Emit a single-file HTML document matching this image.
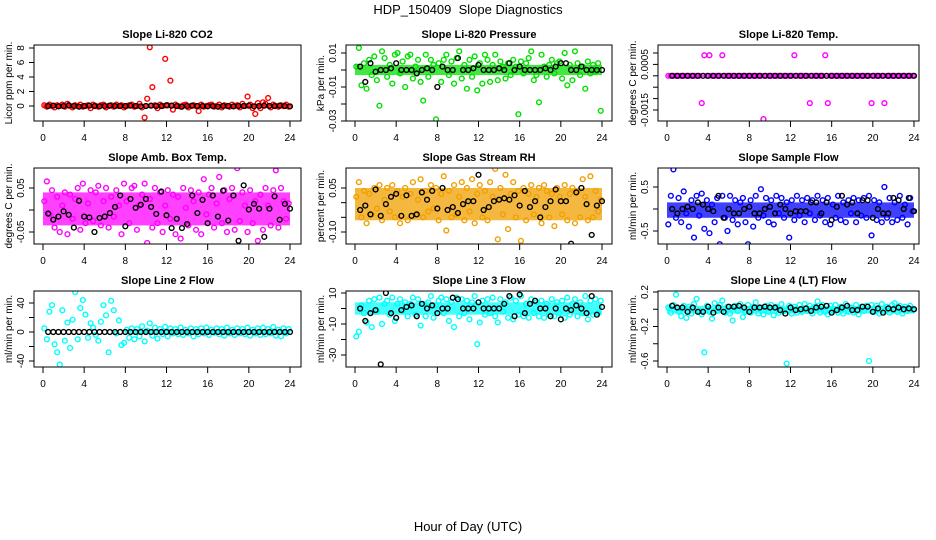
<!DOCTYPE html>
<html><head><meta charset="utf-8"><title>HDP_150409 Slope Diagnostics</title>
<style>
html,body{margin:0;padding:0;background:#fff;}
svg{display:block;font-family:"Liberation Sans",Arial,sans-serif;}
</style></head>
<body>
<svg id="chart" width="936" height="540" viewBox="0 0 936 540" xmlns="http://www.w3.org/2000/svg">
<rect x="0" y="0" width="936" height="540" fill="#fff"/>
<text x="468" y="14" font-size="13" text-anchor="middle" style="white-space:pre">HDP_150409&#160; Slope Diagnostics</text>
<text x="468" y="531" font-size="13" text-anchor="middle">Hour of Day (UTC)</text>
<g id="panels"></g>
</svg>
<script>
// ---- shared time categories (hours) ----
const timesColor = [0.125,0.375,0.625,0.875,1.125,1.375,1.625,1.875,2.125,2.375,2.625,2.875,3.125,3.375,3.625,3.875,4.125,4.375,4.625,4.875,5.125,5.375,5.625,5.875,6.125,6.375,6.625,6.875,7.125,7.375,7.625,7.875,8.125,8.375,8.625,8.875,9.125,9.375,9.625,9.875,10.125,10.375,10.625,10.875,11.125,11.375,11.625,11.875,12.125,12.375,12.625,12.875,13.125,13.375,13.625,13.875,14.125,14.375,14.625,14.875,15.125,15.375,15.625,15.875,16.125,16.375,16.625,16.875,17.125,17.375,17.625,17.875,18.125,18.375,18.625,18.875,19.125,19.375,19.625,19.875,20.125,20.375,20.625,20.875,21.125,21.375,21.625,21.875,22.125,22.375,22.625,22.875,23.125,23.375,23.625,23.875];
const timesBlack = [0.5,1,1.5,2,2.5,3,3.5,4,4.5,5,5.5,6,6.5,7,7.5,8,8.5,9,9.5,10,10.5,11,11.5,12,12.5,13,13.5,14,14.5,15,15.5,16,16.5,17,17.5,18,18.5,19,19.5,20,20.5,21,21.5,22,22.5,23,23.5,24];
const xTicks = [0,4,8,12,16,20,24];

// ---- CO2 ----
const co2Color = [0.1,-0.1,0.2,0,-0.2,0.1,0,0.2,-0.1,0.3,0,-0.2,0.1,0,0.2,-0.1,0,0.1,-0.3,0.2,0,-0.1,0.1,0.2,-0.2,0,0.1,-0.1,0.2,0,0.1,-0.2,0,0.1,0.2,-0.1,0,0.3,-0.2,-1.6,1.0,8.1,2.6,0.1,-0.3,0.2,0,6.5,0.1,3.5,-0.5,0.2,0,-0.1,0.1,0.2,-0.2,0,0.1,0,-0.7,0.2,-0.1,0,0.1,0.2,-0.1,0,0.2,-0.2,0.1,0,-0.1,0.2,0,0.1,-0.2,0.3,0,1.3,0.2,-0.3,-1.1,0.4,-0.3,0.5,0.3,1.1,-0.2,0.2,0,-0.1,0.1,0,0.2,-0.1];
const co2Black = [0,0.05,-0.05,0,0.1,0,-0.1,0,0.05,0,-0.05,0,0.05,0,0,0,0.05,0,-0.05,0,0.05,0,0,0.1,0.05,0,-0.1,0,0.05,0,0,-0.05,0,-0.1,0,0,-0.05,0,0,0.05,-0.05,0,0.05,0,0,0.05,0,-0.05];
const co2Core = [-0.3,0.3];
const co2YTicks = [0,2,4,6,8];
const co2YLabels = ["0","2","4","6","8"];

// ---- Pressure ----
const presColor = [0.002,0.013,-0.009,0.004,-0.011,0.006,-0.003,0.008,-0.006,-0.021,0.011,0.007,-0.004,0.003,-0.008,0.009,0.010,-0.002,0.005,-0.010,0.008,0.009,-0.005,0.002,0.006,-0.007,-0.018,0.009,-0.004,0.006,0.003,-0.029,0.004,-0.007,0.006,0.009,-0.003,0.005,-0.008,0.007,0.011,-0.005,0.003,-0.011,0.006,-0.004,0.008,-0.012,0.004,-0.008,0.009,0.006,-0.007,0.003,0.009,-0.006,0.005,0.002,-0.005,0.004,-0.003,0.006,0.002,-0.026,0.005,-0.002,0.004,0.007,0.011,-0.006,-0.003,-0.019,0.009,0.002,-0.004,0.003,0.006,-0.002,0.004,0.005,-0.005,0.010,-0.009,0.003,-0.006,0.011,0.004,-0.003,0.002,-0.011,0.005,-0.002,0.003,-0.001,0.004,-0.024];
const presBlack = [0.002,-0.007,0.004,-0.001,0,0,0.001,0.004,0,0,0,-0.002,0,0.001,0,-0.010,0.002,0,0,0.007,0,0,0.001,0.003,0,0,0,0.001,0,0.004,0,0.002,0,0,0,0,0.001,0,0.002,0.004,0.004,0,0,0.002,0,0,0,0];
const presCore = [-0.003,0.003];
const presYTicks = [0.01,0,-0.01,-0.02,-0.03];
const presYLabels = ["0.01","","-0.01","","-0.03"];

// ---- Li-820 Temp ----
const tempColor = [0,0,0,0,0,0,0,0,0,0,0,0,0,-0.0012,0.0009,0,0.0009,0,0,0,0,0.0009,0,0,0,0,0,0,0,0,0,0,0,0,0,0,0,-0.0019,0,0,0,0,0,0,0,0,0,0,0,0.0009,0,0,0,0,0,-0.0012,0,0,0,0,0,0.0009,-0.0012,0,0,0,0,0,0,0,0,0,0,0,0,0,0,0,0,-0.0012,0,0,0,0,-0.0012,0,0,0,0,0,0,0,0,0,0,0];
const tempBlack = [0,0,0,0,0,0,0,0,0,0,0,0,0,0,0,0,0,0,0,0,0,0,0,0,0,0,0,0,0,0,0,0,0,0,0,0,0,0,0,0,0,0,0,0,0,0,0,0];
const tempCore = [-0.00005,0.00005];
const tempYTicks = [0.001,0.0005,0,-0.0005,-0.001,-0.0015];
const tempYLabels = ["","0.0005","","","","-0.0015"];

// ---- Amb. Box Temp ----
const ambColor = [0.02,0.065,-0.01,0.045,-0.04,0.03,-0.05,0.01,0.04,-0.055,0.035,-0.02,0.025,0.05,-0.045,0.06,-0.03,0.015,0.045,-0.025,0.04,0.055,-0.035,0.02,0.05,-0.04,0.03,-0.015,0.045,0.01,-0.055,0.06,0.02,-0.03,0.05,0.055,-0.045,0.01,0.035,0.06,-0.075,0.025,-0.04,0.05,-0.03,0.04,-0.05,0.01,0.045,-0.02,0.035,-0.055,0.03,-0.065,0.05,0.005,-0.035,0.045,0.02,-0.045,0.04,-0.055,0.07,-0.01,0.035,0.05,-0.04,0.015,0.075,-0.03,0.045,-0.05,0.025,0.05,-0.045,0.095,-0.025,0.04,0.01,-0.05,0.045,-0.03,0.02,-0.07,0.035,-0.045,0.05,0.01,-0.035,0.045,0.09,-0.04,0.05,0.02,-0.02,0.015];
const ambBlack = [-0.008,-0.022,-0.015,-0.003,-0.011,-0.04,0.021,-0.015,-0.017,-0.05,-0.018,-0.015,-0.007,0.007,0.033,-0.037,0.025,0.005,0.012,0.025,0.007,-0.009,0.042,-0.012,-0.041,-0.02,-0.041,-0.032,0.033,-0.007,0.023,-0.03,0.033,-0.015,0.044,-0.024,0.033,-0.07,0.056,0.001,0.014,0.003,-0.061,0.003,0.031,-0.022,0.014,0.003];
const ambCore = [-0.035,0.04];
const ambYTicks = [0.05,0,-0.05];
const ambYLabels = ["0.05","","-0.05"];

// ---- Gas Stream RH ----
const rhColor = [0.02,0.07,-0.05,0.04,-0.07,0.03,-0.04,0.05,-0.02,0.06,-0.06,0.01,0.05,-0.03,0.06,-0.05,0.04,-0.07,0.02,0.05,-0.06,0.03,0.07,-0.04,0.01,0.08,-0.05,0.04,-0.03,0.06,-0.02,0.05,-0.06,0.03,0.09,-0.095,0.04,-0.05,0.06,-0.04,0.02,0.07,-0.06,0.05,-0.03,0.08,-0.07,0.03,0.06,-0.05,0.04,-0.06,0.07,0.02,0.115,-0.125,0.05,-0.04,0.095,-0.09,0.03,0.07,-0.05,0.04,-0.13,0.05,-0.06,0.03,0.06,-0.04,0.02,0.05,-0.07,0.06,0.04,-0.05,0.03,-0.08,0.05,0.02,-0.04,0.06,-0.06,0.03,0.05,-0.07,0.04,-0.05,0.08,0.02,-0.06,0.09,-0.05,0.04,-0.03,0.01];
const rhBlack = [-0.025,-0.01,-0.04,0.045,-0.045,-0.005,0.02,0.03,-0.045,0.025,-0.045,-0.04,0.035,0.01,0.04,-0.02,0.05,-0.025,-0.015,-0.035,-0.005,0.005,0.005,0.095,-0.025,-0.015,0.005,0.01,0.015,0.01,0.025,-0.01,0.04,-0.015,0.005,-0.05,-0.015,0.005,0.045,0.005,0.005,-0.14,0.035,0.05,-0.005,-0.11,-0.01,0.005];
const rhCore = [-0.06,0.05];
const rhYTicks = [0.05,0,-0.05,-0.10];
const rhYLabels = ["0.05","","","-0.10"];

// ---- Sample Flow ----
const sfColor = [-0.35,0.3,0.9,-0.2,0.25,-0.3,0.4,-0.1,-0.4,0.2,-0.65,0.3,-0.15,0.35,-0.45,0.2,-0.55,0.1,-0.3,0.25,-0.8,0.3,-0.2,-0.5,0.3,-0.25,0.2,-0.35,0.15,0.25,-0.3,-0.8,0.2,-0.4,0.3,-0.2,0.45,-0.15,0.25,-0.3,0.2,-0.35,0.3,-0.1,0.25,-0.2,0.15,-0.65,0.2,-0.25,0.3,-0.15,0.2,-0.3,0.25,-0.1,0.2,-0.25,0.3,-0.15,0.2,-0.3,0.25,-0.35,0.1,-0.2,0.3,-0.25,0.15,-0.3,0.2,-0.1,0.25,-0.3,0.2,-0.15,0.25,-0.2,0.3,-0.6,0.2,-0.25,0.15,-0.3,0.5,-0.2,0.25,-0.3,0.15,-0.25,0.3,-0.2,0.1,-0.35,0.25,-0.05];
const sfBlack = [0,-0.1,0,0.05,0,0.15,0.1,0,-0.05,0.3,-0.2,0,-0.1,-0.1,0,0.05,-0.1,-0.1,0,0.05,-0.1,0.1,0,-0.1,-0.05,-0.05,-0.05,0.15,0.15,-0.1,0.15,-0.25,0.05,0.3,0.1,0.15,-0.1,0.2,0.2,-0.2,0,-0.1,-0.1,0.25,0.2,0,0.25,-0.05];
const sfCore = [-0.2,0.15];
const sfYTicks = [0.5,0,-0.5];
const sfYLabels = ["0.5","","-0.5"];

// ---- Line 2 Flow ----
const l2Color = [5,-10,28,37,-17,-28,-45,30,-12,13,-22,17,55,-10,33,44,24,-8,12,6,-4,-12,14,37,23,-28,43,30,-2,16,-18,-15,3,-8,5,-10,4,-6,8,-13,2,12,-5,6,-9,4,-3,7,-6,5,-2,4,-3,6,-4,3,-2,5,-6,4,-3,5,-2,6,-4,3,-1,5,-3,4,-5,6,-2,3,-4,5,-2,4,-3,6,-5,3,-2,5,-4,6,-3,4,-2,7,-5,3,-6,5,-2,4];
const l2Black = [0,0,0,0,0,0,0,0,0,0,0,0,0,0,0,0,0,0,0,0,0,0,0,0,0,0,0,0,0,0,0,0,0,0,0,0,0,0,0,0,0,0,0,0,0,0,0,0];
const l2Core = [-3,3];
const l2YTicks = [40,20,0,-20,-40];
const l2YLabels = ["40","","0","","-40"];

// ---- Line 3 Flow ----
const l3Color = [-18,-15,2,-3,-9,5,-12,6,-2,7,-10,3,5,-4,7,-8,3,6,-2,4,-5,3,7,-4,6,-11,3,-5,4,8,-6,2,5,7,-3,6,-8,4,-12,7,-5,6,-3,5,-7,4,8,-23,-9,5,-4,6,-3,7,-5,-9,6,-2,4,-6,7,-7,5,-4,8,-5,3,-6,6,-3,4,-5,5,-6,3,-4,6,-5,4,-3,5,-6,7,-4,3,6,-5,4,-3,8,-7,5,-4,6,-3,5];
const l3Black = [0,-8,-3,-1,-36,10,-3,-6,-1,1,2,-5,3,0,2,-3,0,0,7,6,0,0,0,4,0,0,0,0,3,8,-5,9,-3,3,5,0,0,-5,0,-7,0,-1,2,0,-3,8,-4,1];
const l3Core = [-4,4];
const l3YTicks = [10,0,-10,-20,-30];
const l3YLabels = ["10","","-10","","-30"];

// ---- Line 4 (LT) Flow ----
const l4Color = [0.02,-0.04,0.05,0.17,-0.03,-0.08,0.04,-0.1,0.03,-0.05,0.06,0.12,-0.02,-0.06,-0.5,0.04,-0.03,-0.11,0.07,-0.02,0.05,0.1,-0.04,0.03,-0.05,-0.13,0.04,-0.02,0.06,-0.09,-0.03,0.05,-0.04,0.03,0.08,-0.05,0.02,-0.06,0.04,-0.03,0.05,-0.07,0.03,-0.04,0.06,-0.02,-0.63,0.04,-0.05,0.03,-0.04,0.05,-0.03,0.06,-0.02,0.04,-0.05,0.03,0.09,-0.04,0.05,-0.03,-0.06,0.04,-0.02,0.05,-0.04,0.03,-0.05,0.06,-0.03,0.02,-0.04,0.05,-0.06,0.03,-0.02,0.04,-0.6,0.05,-0.03,0.04,-0.05,0.06,-0.02,0.03,-0.04,0.05,0.07,-0.03,0.04,-0.05,0.03,-0.02,0.04,-0.01];
const l4Black = [0.04,0.02,0.02,-0.03,0.02,-0.03,-0.03,0.03,-0.04,0.02,-0.03,0.03,0.03,0.04,0.02,-0.03,0.02,0.02,0.03,0.02,0.02,-0.01,-0.05,0.02,-0.01,0,0.01,-0.02,0.02,0.03,0.04,-0.04,-0.01,0.02,0.04,-0.01,-0.01,0.03,0.03,-0.03,0.01,-0.04,0.01,0,0.02,0,0.01,0];
const l4Core = [-0.05,0.04];
const l4YTicks = [0.2,0,-0.2,-0.4,-0.6];
const l4YLabels = ["0.2","","-0.2","","-0.6"];

// ---- panel layout (positions/styles only) ----
const NS = "http://www.w3.org/2000/svg";
const root = document.getElementById("panels");
function mk(tag, attrs, parent){
  const e = document.createElementNS(NS, tag);
  for (const k in attrs) e.setAttribute(k, attrs[k]);
  (parent||root).appendChild(e);
  return e;
}
const cols = [{l:34,r:301,x0:43,x24:290},{l:346,r:612,x0:355,x24:602},{l:658,r:919,x0:667,x24:914}];
const rows = [{t:45,b:121},{t:168,b:244},{t:291,b:367}];

const panels = [
  {key:"co2",title:"Slope Li-820 CO2",ylab:"Licor ppm per min.",color:"#ff0000",ya:[8,48],yb:[0,106],c:co2Color,k:co2Black,core:co2Core,ticks:co2YTicks,labels:co2YLabels,row:0,col:0},
  {key:"pressure",title:"Slope Li-820 Pressure",ylab:"kPa per min.",color:"#00e000",ya:[0.01,53],yb:[-0.03,121],c:presColor,k:presBlack,core:presCore,ticks:presYTicks,labels:presYLabels,row:0,col:1},
  {key:"temp",title:"Slope Li-820 Temp.",ylab:"degrees C per min.",color:"#ff00ff",ya:[0.001,53],yb:[-0.0015,110],c:tempColor,k:tempBlack,core:tempCore,ticks:tempYTicks,labels:tempYLabels,row:0,col:2},
  {key:"amb-temp",title:"Slope Amb. Box Temp.",ylab:"degrees C per min.",color:"#ff00ff",ya:[0.05,188],yb:[-0.05,232],c:ambColor,k:ambBlack,core:ambCore,ticks:ambYTicks,labels:ambYLabels,row:1,col:0},
  {key:"rh",title:"Slope Gas Stream RH",ylab:"percent per min.",color:"#f0a000",ya:[0.05,188],yb:[-0.10,232],c:rhColor,k:rhBlack,core:rhCore,ticks:rhYTicks,labels:rhYLabels,row:1,col:1},
  {key:"sample-flow",title:"Slope Sample Flow",ylab:"ml/min per min.",color:"#0000ff",ya:[0.5,187],yb:[-0.5,231],c:sfColor,k:sfBlack,core:sfCore,ticks:sfYTicks,labels:sfYLabels,row:1,col:2},
  {key:"line2",title:"Slope Line 2 Flow",ylab:"ml/min per min.",color:"#00ffff",ya:[40,303],yb:[-40,361],c:l2Color,k:l2Black,core:l2Core,ticks:l2YTicks,labels:l2YLabels,row:2,col:0},
  {key:"line3",title:"Slope Line 3 Flow",ylab:"ml/min per min.",color:"#00ffff",ya:[10,293],yb:[-30,355],c:l3Color,k:l3Black,core:l3Core,ticks:l3YTicks,labels:l3YLabels,row:2,col:1},
  {key:"line4",title:"Slope Line 4 (LT) Flow",ylab:"ml/min per min.",color:"#00ffff",ya:[0.2,292],yb:[-0.6,361],c:l4Color,k:l4Black,core:l4Core,ticks:l4YTicks,labels:l4YLabels,row:2,col:2}
];

panels.forEach(p => {
  const C = cols[p.col], R = rows[p.row];
  const xs = h => C.x0 + (h/24)*(C.x24 - C.x0);
  const ys = v => p.ya[1] + (v - p.ya[0])*(p.yb[1]-p.ya[1])/(p.yb[0]-p.ya[0]);
  const g = mk("g", {});
  
  
  const clip = mk("clipPath", {id:"clip-"+p.key}, g);
  mk("rect", {x:C.l, y:R.t, width:C.r-C.l, height:R.b-R.t}, clip);

  const title = mk("text", {x:(C.l+C.r)/2, y:R.t-7, "font-size":11, "font-weight":"bold", "text-anchor":"middle"}, g);
  title.textContent = p.title;
  
  

  const yl = mk("text", {x:0, y:0, "font-size":10, "text-anchor":"middle", transform:`translate(${C.l-22},${(R.t+R.b)/2}) rotate(-90)`}, g);
  yl.textContent = p.ylab;
  
  

  const plot = mk("g", {"clip-path":`url(#clip-${p.key})`}, g);
  
  
  const y1 = ys(p.core[1]), y0 = ys(p.core[0]);
  const xStart = p.key==="line2" ? xs(8) : xs(0);
  const band = mk("rect", {x:xStart, y:Math.min(y0,y1), width:xs(24)-xStart, height:Math.max(1.5,Math.abs(y0-y1)), fill:p.color, opacity:0.75}, plot);
  
  
  p.c.forEach((v,i) => {
    const c = mk("circle", {cx:xs(timesColor[i]), cy:ys(v), r:2.4, fill:"none", stroke:p.color, "stroke-width":1.4}, plot);
    
    
  });
  p.k.forEach((v,i) => {
    const c = mk("circle", {cx:xs(timesBlack[i]), cy:ys(v), r:2.4, fill:"none", stroke:"#000", "stroke-width":1.4}, plot);
    
    
  });

  const box = mk("rect", {x:C.l, y:R.t, width:C.r-C.l, height:R.b-R.t, fill:"none", stroke:"#000", "stroke-width":1}, g);
  
  

  xTicks.forEach(h => {
    const t = mk("line", {x1:xs(h), x2:xs(h), y1:R.b, y2:R.b+6, stroke:"#000"}, g);
    
    
    const tl = mk("text", {x:xs(h), y:R.b+20, "font-size":10, "text-anchor":"middle"}, g);
    tl.textContent = h;
    
    
  });
  p.ticks.forEach((v,i) => {
    const yy = ys(v);
    const t = mk("line", {x1:C.l-5, x2:C.l, y1:yy, y2:yy, stroke:"#000"}, g);
    
    
    if (p.labels[i]) {
      const tl = mk("text", {x:0, y:0, "font-size":10, "text-anchor":"middle", transform:`translate(${C.l-10},${yy}) rotate(-90)`}, g);
      tl.textContent = p.labels[i];
      
      
    }
  });
});
</script>
</body></html>
